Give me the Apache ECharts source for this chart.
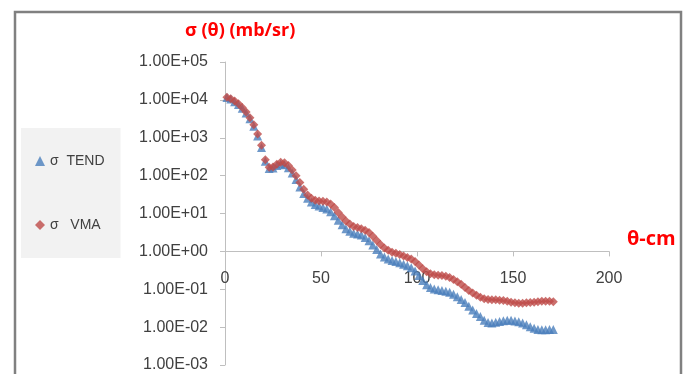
<!DOCTYPE html>
<html>
<head>
<meta charset="utf-8">
<script src="https://cdn.jsdelivr.net/npm/echarts@6/dist/echarts.min.js"></script>
<style>
  html, body { margin: 0; padding: 0; background: #fff; }
  #container { width: 697px; height: 374px; }
</style>
</head>
<body>
<div id="container"></div>
<script>
// angle in cm frame
const theta = [1, 3, 5, 7, 9, 11, 13, 15, 17, 19, 21, 23, 25, 27, 29, 31, 33, 35, 37, 39,
  41, 43, 45, 47, 49, 51, 53, 55, 57, 59, 61, 63, 65, 67, 69, 71, 73, 75, 77, 79,
  81, 83, 85, 87, 89, 91, 93, 95, 97, 99, 101, 103, 105, 107, 109, 111, 113, 115, 117, 119,
  121, 123, 125, 127, 129, 131, 133, 135, 137, 139, 141, 143, 145, 147, 149, 151, 153, 155, 157, 159,
  161, 163, 165, 167, 169, 171];

// sigma TEND (mb/sr)
const sigmaTend = [11500, 10500, 8910, 7590, 6030, 4470, 3160, 2000, 1120, 550, 240, 155, 158, 186, 204, 195, 162, 117, 79.4, 50.1,
  33.9, 25.1, 20.0, 17.4, 15.8, 14.5, 13.2, 11.2, 8.71, 6.61, 5.01, 3.98, 3.39, 3.02, 2.88, 2.69, 2.34, 1.91, 1.48, 1.12,
  0.851, 0.708, 0.631, 0.575, 0.537, 0.501, 0.457, 0.417, 0.372, 0.302, 0.229, 0.170, 0.132, 0.112, 0.102, 0.0977, 0.0933, 0.0891, 0.0832, 0.0741,
  0.0631, 0.0537, 0.0447, 0.0355, 0.0282, 0.0229, 0.0191, 0.0151, 0.0132, 0.0129, 0.0135, 0.0141, 0.0148, 0.0151, 0.0151, 0.0145, 0.0138, 0.0129, 0.0115, 0.0102,
  0.00933, 0.00871, 0.00851, 0.00851, 0.00871, 0.00871];

// sigma VMA (mb/sr)
const sigmaVma = [11700, 10700, 9330, 7940, 6310, 4790, 3390, 2190, 1260, 631, 263, 166, 170, 200, 224, 219, 186, 141, 100, 66.1,
  43.7, 30.9, 25.1, 22.4, 21.4, 20.9, 20.0, 17.8, 14.5, 10.7, 8.13, 6.31, 5.25, 4.57, 4.27, 3.98, 3.63, 3.16, 2.51, 1.95,
  1.51, 1.23, 1.07, 0.955, 0.891, 0.832, 0.759, 0.692, 0.631, 0.537, 0.437, 0.347, 0.288, 0.257, 0.240, 0.234, 0.229, 0.219, 0.204, 0.182,
  0.158, 0.135, 0.112, 0.0933, 0.0794, 0.0692, 0.0617, 0.0562, 0.0537, 0.0525, 0.0525, 0.0513, 0.0501, 0.0479, 0.0457, 0.0437, 0.0427, 0.0427, 0.0437, 0.0447,
  0.0457, 0.0468, 0.0479, 0.0479, 0.0479, 0.0468];

const seriesNames = ['σ  TEND', 'σ   VMA'];

let dom = document.getElementById('container');
let myChart = echarts.init(dom, null, { renderer: 'canvas' });

const pairs = ys => theta.map((t, i) => [t, ys[i]]);

const fmtExp = v => {
  let e = Math.round(Math.log10(v));
  let s = e < 0 ? '-' : '+';
  let a = Math.abs(e);
  return '1.00E' + s + (a < 10 ? '0' + a : a);
};

// x axis sits on 1.00E+00: 3 of the 8 decades above the grid bottom
const gridTop = 62, gridBottom = 365;
const zeroOffset = (gridBottom - gridTop) * 3 / 8;

let option = {
  animation: false,
  backgroundColor: '#fff',
  textStyle: { fontFamily: 'Liberation Sans, Arial, sans-serif' },
  grid: { left: 225, right: 88, top: gridTop, bottom: 374 - gridBottom },
  legend: {
    orient: 'vertical',
    left: 21,
    top: 128,
    backgroundColor: '#f2f2f2',
    padding: [26, 16, 26, 14],
    itemGap: 50,
    itemWidth: 10,
    itemHeight: 10,
    textStyle: { color: '#404040', fontSize: 14 },
    data: [
      { name: seriesNames[0], icon: 'triangle' },
      { name: seriesNames[1], icon: 'diamond' }
    ]
  },
  xAxis: {
    type: 'value',
    min: 0,
    max: 200,
    interval: 50,
    offset: -zeroOffset,
    axisLine: { show: true, lineStyle: { color: '#bfbfbf' } },
    axisTick: { show: true, length: 5, lineStyle: { color: '#bfbfbf' } },
    axisLabel: { color: '#404040', fontSize: 16, margin: 19 },
    splitLine: { show: false }
  },
  yAxis: {
    type: 'log',
    logBase: 10,
    min: 0.001,
    max: 100000,
    axisLine: { show: true, lineStyle: { color: '#bfbfbf' } },
    axisTick: { show: true, length: 5, lineStyle: { color: '#bfbfbf' } },
    axisLabel: { color: '#404040', fontSize: 16, margin: 17, formatter: fmtExp },
    splitLine: { show: false }
  },
  graphic: [
    {
      type: 'rect',
      shape: { x: 15, y: 12, width: 666, height: 400 },
      style: { fill: 'none', stroke: '#808080', lineWidth: 2.5 }
    },
    {
      type: 'text',
      left: 185,
      top: 22,
      style: { text: 'σ (θ) (mb/sr)', fill: '#ff0000', font: 'bold 18px "Open Sans", sans-serif' }
    },
    {
      type: 'text',
      left: 627,
      top: 229,
      style: { text: 'θ-cm', fill: '#ff0000', font: 'bold 20px "Open Sans", sans-serif' }
    }
  ],
  series: [
    {
      name: seriesNames[0],
      type: 'scatter',
      symbol: 'triangle',
      symbolSize: 9,
      itemStyle: { color: '#4a7ebb' },
      data: pairs(sigmaTend)
    },
    {
      name: seriesNames[1],
      type: 'scatter',
      symbol: 'diamond',
      symbolSize: 9,
      itemStyle: { color: '#be4b48' },
      data: pairs(sigmaVma)
    }
  ]
};
myChart.setOption(option);
</script>
</body>
</html>
